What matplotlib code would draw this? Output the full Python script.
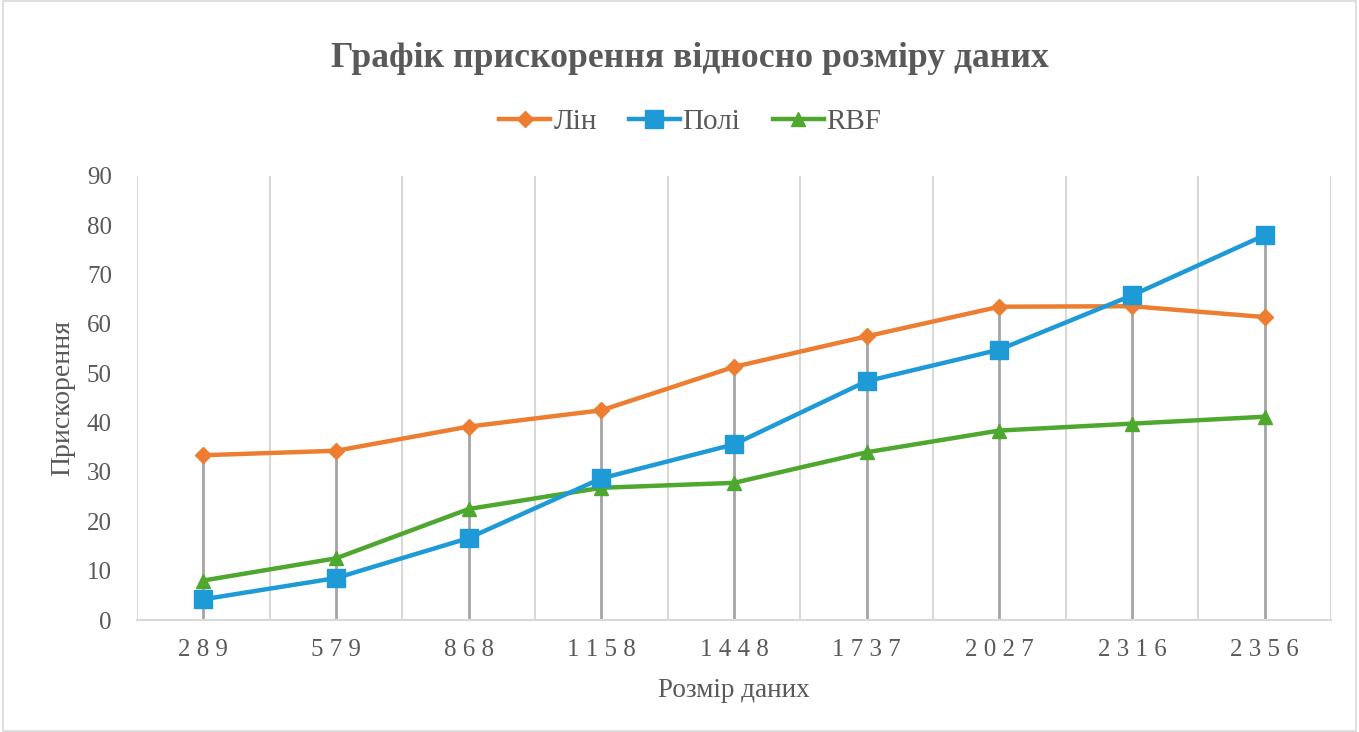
import matplotlib.pyplot as plt
import numpy as np
from matplotlib.patches import Rectangle

plt.rcParams['font.family'] = ['Liberation Serif', 'DejaVu Serif']

sizes = ['289', '579', '868', '1158', '1448', '1737', '2027', '2316', '2356']
lin = [33.4, 34.3, 39.2, 42.5, 51.3, 57.5, 63.5, 63.6, 61.4]
poly = [4.2, 8.5, 16.6, 28.7, 35.6, 48.4, 54.8, 65.8, 78.0]
rbf = [8.0, 12.5, 22.5, 26.8, 27.8, 34.0, 38.4, 39.8, 41.2]

grey = '#595959'
fig = plt.figure(figsize=(13.59, 7.32), dpi=100)
ax = fig.add_axes([0.1008, 0.153, 0.8786, 0.6066])

x = np.arange(len(sizes))

# drop lines from the top point down to the axis
tops = np.max([lin, poly, rbf], axis=0)
ax.vlines(x, 0, tops, color='#a5a5a5', lw=2, zorder=2)

ax.plot(x, lin, color='#ed7d31', lw=3.2, marker='D', ms=8, label='Лін', zorder=4)
ax.plot(x, poly, color='#1e9bd7', lw=3.2, marker='s', ms=13, label='Полі', zorder=5)
ax.plot(x, rbf, color='#4ea72e', lw=3.2, marker='^', ms=10, label='RBF', zorder=3)

ax.set_xlim(-0.5, len(sizes) - 0.5)
ax.set_ylim(0, 90)
ax.set_yticks(range(0, 91, 10))
ax.set_xticks(x)
ax.set_xticklabels([' '.join(s) for s in sizes])
ax.set_xticks(np.arange(-0.5, len(sizes)), minor=True)
ax.grid(True, axis='x', which='minor', color='#d9d9d9', lw=1.5, zorder=1)
ax.tick_params(axis='both', which='both', length=0, labelsize=18, labelcolor=grey)
ax.tick_params(axis='x', pad=14)
ax.tick_params(axis='y', pad=18)

for side in ['top', 'right', 'left']:
    ax.spines[side].set_visible(False)
ax.spines['bottom'].set_color('#d9d9d9')
ax.spines['bottom'].set_linewidth(1.5)

ax.set_xlabel('Розмір даних', fontsize=19.5, color=grey)
ax.set_ylabel('Прискорення', fontsize=20, color=grey)
ax.xaxis.set_label_coords(0.5, -0.131)
ax.yaxis.set_label_coords(-0.052, 0.5)

fig.suptitle('Графік прискорення відносно розміру даних', x=0.508, y=0.92,
             va='center', fontsize=25.7, fontweight='bold', color=grey)
fig.legend(loc='center', bbox_to_anchor=(0.508, 0.833), ncol=3, frameon=False,
           fontsize=21, labelcolor=grey, handlelength=1.75, handletextpad=0.1,
           columnspacing=1.1)

fig.patches.append(Rectangle((0.002, 0.002), 0.996, 0.996, transform=fig.transFigure,
                             fill=False, edgecolor='#d9d9d9', lw=1.2))

fig.savefig('out.png', dpi=100)
